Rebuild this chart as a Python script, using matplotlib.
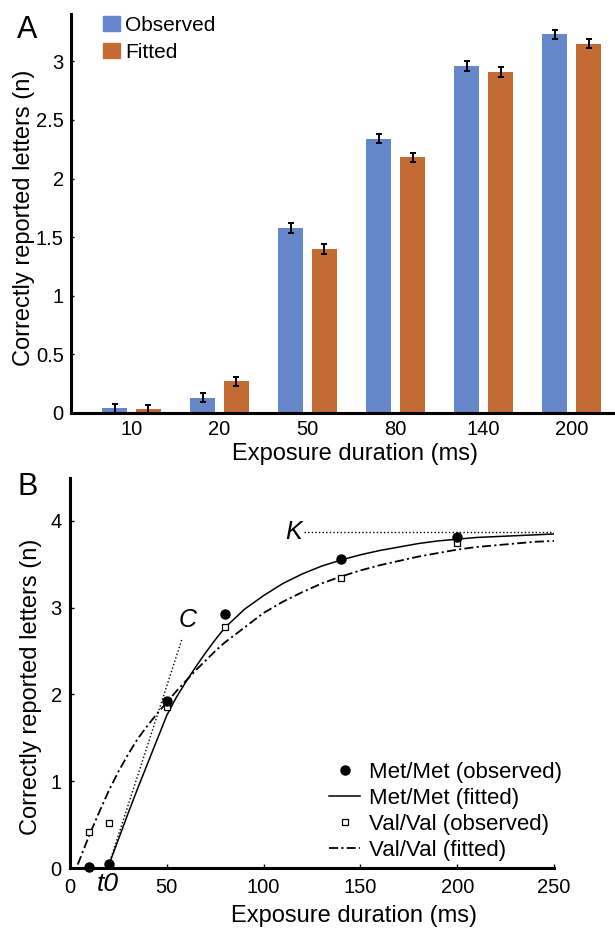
import matplotlib
matplotlib.use('Agg')
import matplotlib.pyplot as plt
from matplotlib.patches import Patch
from matplotlib.lines import Line2D
from matplotlib.ticker import FuncFormatter
import numpy as np

plt.rcParams['font.family'] = ['Liberation Sans', 'DejaVu Sans']

# ---------------- Panel A data ----------------
durations_a = ['10', '20', '50', '80', '140', '200']
observed = [0.04, 0.13, 1.58, 2.34, 2.96, 3.23]
observed_err = [0.04, 0.04, 0.04, 0.04, 0.04, 0.04]
fitted = [0.03, 0.27, 1.40, 2.18, 2.91, 3.15]
fitted_err = [0.04, 0.04, 0.04, 0.04, 0.04, 0.04]
yticks_a = [0, 0.5, 1, 1.5, 2, 2.5, 3]

# ---------------- Panel B data ----------------
obs_t = [10, 20, 50, 80, 140, 200]
met_obs = [0.01, 0.05, 1.93, 2.93, 3.56, 3.82]
val_obs = [0.41, 0.52, 1.86, 2.78, 3.34, 3.75]

met_fit_t = [20, 25, 30, 35, 40, 45, 50, 55, 60, 65, 70, 75, 80, 90, 100, 110,
             120, 130, 140, 150, 160, 170, 180, 190, 200, 210, 220, 230, 240, 250]
met_fit_n = [0.03, 0.33, 0.63, 0.92, 1.20, 1.48, 1.76, 1.97, 2.15, 2.32, 2.48, 2.63,
             2.77, 2.98, 3.14, 3.28, 3.39, 3.48, 3.55, 3.61, 3.66, 3.70, 3.74, 3.77,
             3.79, 3.81, 3.82, 3.83, 3.84, 3.85]

val_fit_t = [4, 10, 15, 20, 25, 30, 35, 40, 45, 50, 55, 60, 65, 70, 75, 80, 90, 100,
             110, 120, 130, 140, 150, 160, 170, 180, 190, 200, 210, 220, 230, 240, 250]
val_fit_n = [0.04, 0.38, 0.64, 0.89, 1.11, 1.31, 1.49, 1.64, 1.78, 1.91, 2.04, 2.16,
             2.28, 2.39, 2.50, 2.60, 2.77, 2.94, 3.07, 3.18, 3.28, 3.36, 3.43, 3.49,
             3.54, 3.59, 3.63, 3.67, 3.70, 3.72, 3.74, 3.76, 3.77]

k_line_t = [121, 250]
k_line_n = [3.87, 3.87]
c_line_t = [19.5, 58]
c_line_n = [0.0, 2.65]
xticks_b = [0, 50, 100, 150, 200, 250]
yticks_b = [0, 1, 2, 3, 4]

BLUE = '#6586C9'
ORANGE = '#C26B32'

W, H = 615, 930
fig = plt.figure(figsize=(W / 100, H / 100), dpi=100)


def px_axes(left, top, right, bottom):
    return fig.add_axes([left / W, 1 - bottom / H, (right - left) / W, (bottom - top) / H])


fmt = FuncFormatter(lambda v, p: '%g' % v)

# ---------------- Panel A ----------------
axA = px_axes(70.6, 14.5, 615, 413)
x = np.arange(len(durations_a))
bw = 0.29
off = 0.193
axA.bar(x - off, observed, bw, color=BLUE, zorder=2)
axA.bar(x + off, fitted, bw, color=ORANGE, zorder=2)
axA.errorbar(x - off, observed, yerr=observed_err, fmt='none', ecolor='black',
             elinewidth=1.4, capsize=2.2, capthick=1.4, zorder=3)
axA.errorbar(x + off, fitted, yerr=fitted_err, fmt='none', ecolor='black',
             elinewidth=1.4, capsize=2.2, capthick=1.4, zorder=3)
axA.set_xlim(-0.692, 5.494)
axA.set_ylim(0, 3.4)
axA.set_xticks(x)
axA.set_xticklabels(durations_a)
axA.set_yticks(yticks_a)
axA.yaxis.set_major_formatter(fmt)
for s in ['top', 'right']:
    axA.spines[s].set_visible(False)
for s in ['left', 'bottom']:
    axA.spines[s].set_linewidth(2.2)
axA.tick_params(axis='y', direction='in', length=2.5, width=1, labelsize=14.5, pad=5)
axA.tick_params(axis='x', length=0, labelsize=14.5, pad=5)
axA.set_xlabel('Exposure duration (ms)', fontsize=17)
axA.xaxis.set_label_coords(0.5215, -0.0755)
axA.set_ylabel('Correctly reported letters (n)', fontsize=17)
axA.yaxis.set_label_coords(-0.066, 0.49)
legA = axA.legend(handles=[Patch(color=BLUE, label='Observed'),
                           Patch(color=ORANGE, label='Fitted')],
                  loc='upper left', bbox_to_anchor=(103 / W, 1 - 16 / H),
                  bbox_transform=fig.transFigure, frameon=False, fontsize=15,
                  handlelength=0.82, handleheight=0.75, handletextpad=0.25,
                  labelspacing=0.36, borderpad=0, borderaxespad=0)
fig.text(17 / W, 1 - 38 / H, 'A', fontsize=22, ha='left', va='baseline')

# ---------------- Panel B ----------------
axB = px_axes(70, 477.6, 554, 868)
axB.plot(met_fit_t, met_fit_n, color='black', lw=1.1, zorder=3)
axB.plot(val_fit_t, val_fit_n, color='black', lw=1.3,
         linestyle=(0, (5, 1.8, 1.2, 1.8)), zorder=3)
axB.plot(k_line_t, k_line_n, color='black', lw=1.0, linestyle=(0, (1, 1.6)), zorder=2)
axB.plot(c_line_t, c_line_n, color='black', lw=1.0, linestyle=(0, (1, 1.6)), zorder=2)
axB.plot(obs_t, val_obs, linestyle='none', marker='s', markersize=5,
         markerfacecolor='white', markeredgecolor='black', markeredgewidth=0.9,
         zorder=4, clip_on=False)
axB.plot(obs_t, met_obs, linestyle='none', marker='o', markersize=6.5,
         color='black', zorder=5, clip_on=False)
axB.set_xlim(0, 250)
axB.set_ylim(0, 4.5)
axB.set_xticks(xticks_b)
axB.set_yticks(yticks_b)
for s in ['top', 'right']:
    axB.spines[s].set_visible(False)
for s in ['left', 'bottom']:
    axB.spines[s].set_linewidth(2.2)
axB.tick_params(direction='in', length=3, width=1, labelsize=14.5)
axB.tick_params(axis='x', pad=7)
axB.tick_params(axis='y', pad=6)
axB.set_xlabel('Exposure duration (ms)', fontsize=17)
axB.xaxis.set_label_coords(0.586, -0.095)
axB.set_ylabel('Correctly reported letters (n)', fontsize=17)
axB.yaxis.set_label_coords(-0.058, 0.463)
axB.text(120, 3.87, 'K', fontsize=18, style='italic', ha='right', va='center')
axB.text(61, 2.86, 'C', fontsize=18, style='italic', ha='center', va='center')
axB.text(19.5, -0.18, 't0', fontsize=19, style='italic', ha='center', va='center',
         clip_on=False)
handlesB = [
    Line2D([], [], linestyle='none', marker='o', markersize=6.5, color='black'),
    Line2D([], [], color='black', lw=1.1),
    Line2D([], [], linestyle='none', marker='s', markersize=5, markerfacecolor='white',
           markeredgecolor='black', markeredgewidth=0.9),
    Line2D([], [], color='black', lw=1.3, linestyle=(0, (5, 1.8, 1.2, 1.8))),
]
labelsB = ['Met/Met (observed)', 'Met/Met (fitted)', 'Val/Val (observed)', 'Val/Val (fitted)']
axB.legend(handlesB, labelsB, loc='upper left', bbox_to_anchor=(329 / W, 1 - 762 / H),
           bbox_transform=fig.transFigure, frameon=False, fontsize=16,
           handlelength=1.4, handletextpad=0.42, labelspacing=0.22,
           borderpad=0, borderaxespad=0)
fig.text(17 / W, 1 - 495 / H, 'B', fontsize=22, ha='left', va='baseline')

fig.savefig('out.png', dpi=100)
